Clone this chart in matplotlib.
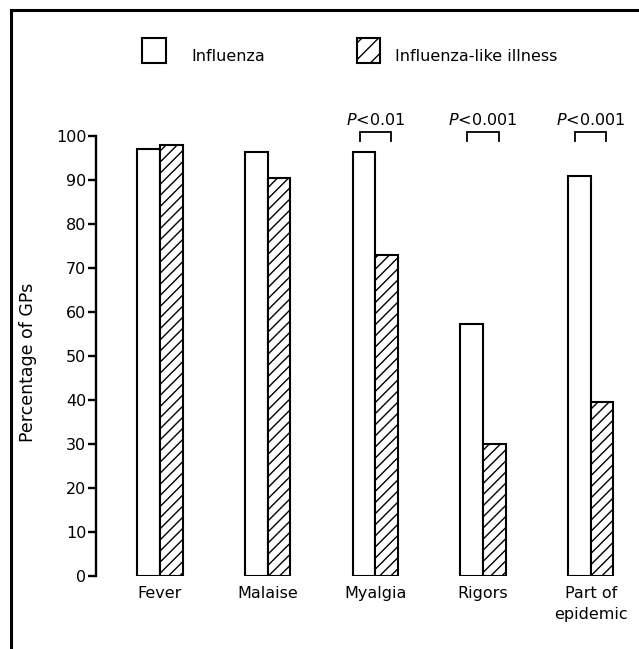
import matplotlib
matplotlib.use("Agg")
import matplotlib.pyplot as plt
from matplotlib.lines import Line2D
from matplotlib.patches import Rectangle
import numpy as np

plt.rcParams['font.family'] = ['DejaVu Sans']
plt.rcParams['hatch.linewidth'] = 1.0
plt.rcParams['mathtext.fontset'] = 'dejavusans'

categories = ["Fever", "Malaise", "Myalgia", "Rigors", "Part of\nepidemic"]
influenza = [97.0, 96.4, 96.3, 57.2, 90.8]
influenza_like = [98.0, 90.5, 73.0, 29.9, 39.5]
series_names = ["Influenza", "Influenza-like illness"]
yticks = [0, 10, 20, 30, 40, 50, 60, 70, 80, 90, 100]
sig_groups = [2, 3, 4]
sig_labels = [r"$\mathit{P}$<0.01", r"$\mathit{P}$<0.001", r"$\mathit{P}$<0.001"]

W, H = 639, 649
fig = plt.figure(figsize=(W / 100, H / 100), dpi=100)
ax = fig.add_axes([96 / W, 1 - 576 / H, (630 - 96) / W, (576 - 136) / H])

x = np.arange(len(categories))
w = 0.21
ax.bar(x - w, influenza, width=w, align='edge', facecolor='white',
       edgecolor='black', linewidth=1.5, zorder=2)
ax.bar(x, influenza_like, width=w, align='edge', facecolor='white',
       edgecolor='black', linewidth=1.5, hatch='///', zorder=2)

ax.set_xlim(-0.594, 4.364)
ax.set_ylim(0, 100)
for s in ['top', 'right', 'bottom']:
    ax.spines[s].set_visible(False)
ax.spines['left'].set_linewidth(1.7)
ax.spines['left'].set_bounds(0, 100)
ax.set_yticks(yticks)
ax.set_yticklabels([str(v) for v in yticks])
ax.tick_params(axis='y', direction='out', length=6, width=1.7, pad=1,
               labelsize=11.5)
ax.set_xticks(x)
ax.set_xticklabels(categories, fontsize=11.5, linespacing=1.5)
ax.tick_params(axis='x', length=0, pad=7)

# significance brackets
for g, lab in zip(sig_groups, sig_labels):
    x0, x1 = g - 0.145, g + 0.145
    ax.plot([x0, x0, x1, x1], [98.9, 100.9, 100.9, 98.9], color='black',
            lw=1.3, clip_on=False, solid_joinstyle='miter')
    ax.text(g, 103.6, lab, ha='center', va='center', fontsize=11.5,
            clip_on=False)

# y label
fig.text(28 / W, 1 - 362 / H, "Percentage of GPs", rotation=90,
         ha='center', va='center', fontsize=12.5)

# legend
fig.patches.append(Rectangle((142 / W, 1 - 63 / H), 24 / W, 25 / H,
                             transform=fig.transFigure, facecolor='white',
                             edgecolor='black', linewidth=1.5))
fig.patches.append(Rectangle((357 / W, 1 - 63 / H), 23 / W, 25 / H,
                             transform=fig.transFigure, facecolor='white',
                             edgecolor='black', linewidth=1.5, hatch='//'))
fig.text(191 / W, 1 - 56.5 / H, series_names[0], ha='left', va='center',
         fontsize=11.5)
fig.text(395 / W, 1 - 56.5 / H, series_names[1], ha='left', va='center',
         fontsize=11.5)

# frame lines
fig.add_artist(Line2D([11 / W, 1.0], [1 - 10 / H, 1 - 10 / H],
                      transform=fig.transFigure, color='black', lw=2.2))
fig.add_artist(Line2D([11 / W, 11 / W], [1 - 10 / H, 0.0],
                      transform=fig.transFigure, color='black', lw=2.2,
                      solid_capstyle='projecting'))

fig.savefig("out.png", dpi=100, facecolor='white')
